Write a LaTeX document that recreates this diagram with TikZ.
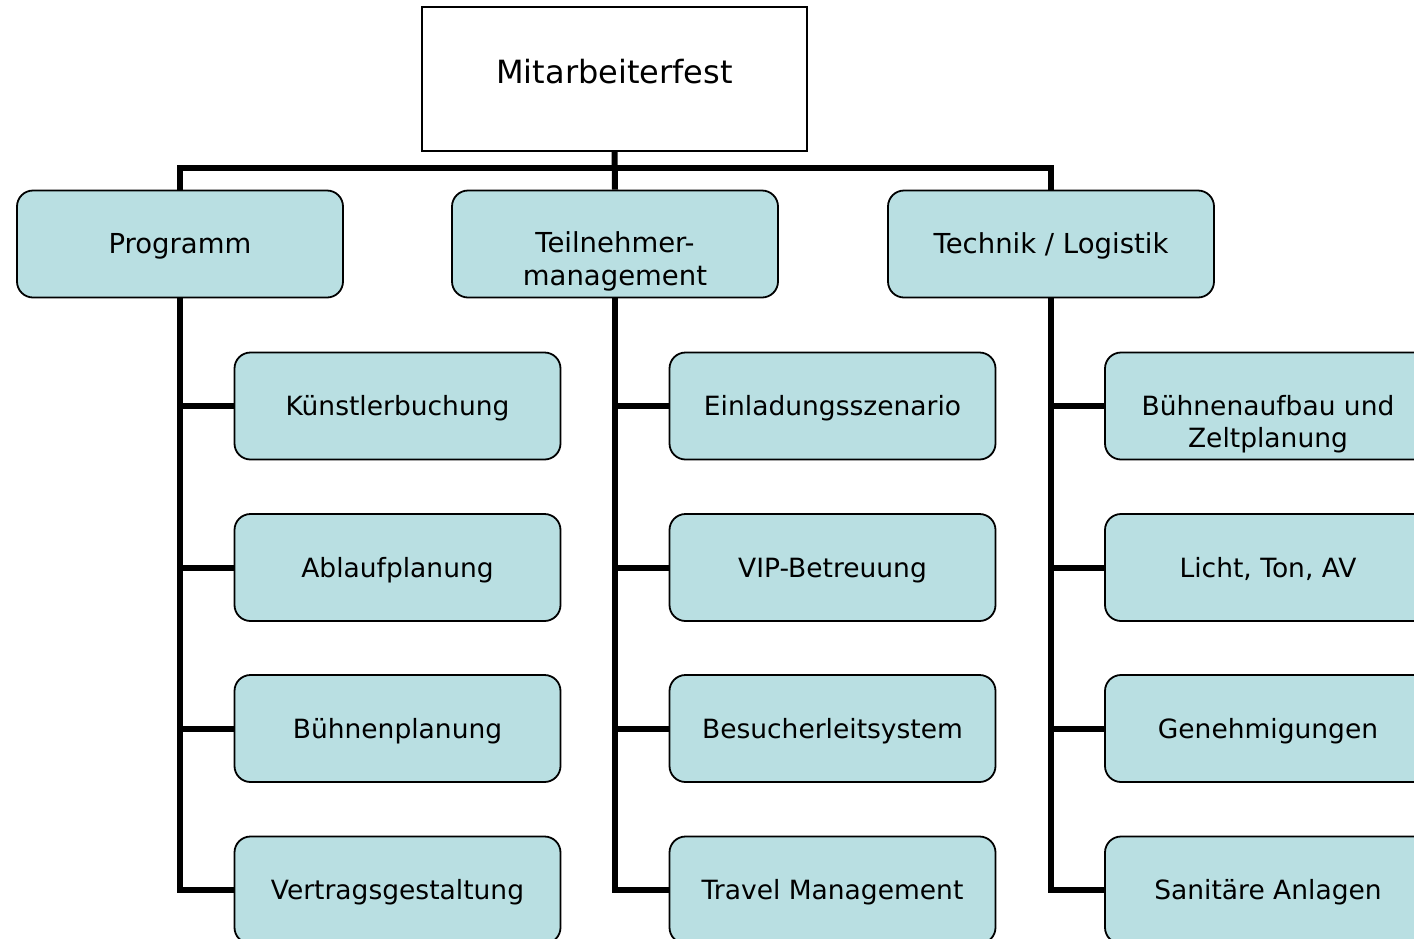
\documentclass[tikz,border=0pt]{standalone}
\usepackage{fontspec}
\setmainfont{DejaVu Sans}
\definecolor{boxblue}{RGB}{185,223,226}
\tikzset{
  rootbox/.style={draw, line width=1.5pt, fill=white, minimum width=385pt, minimum height=144pt, inner sep=0pt, font=\fontsize{32}{38}\selectfont, text height=20pt, text depth=12pt},
  taskbox/.style={draw, line width=1.8pt, fill=boxblue, rounded corners=16pt, minimum width=326pt, minimum height=107pt, inner sep=0pt, align=center, font=\fontsize{26.5}{32}\selectfont, text height=19pt, text depth=0pt},
  headbox/.style={taskbox, font=\fontsize{27.5}{33}\selectfont},
  twolines/.style={text height=83pt}
}
\begin{document}
\begin{tikzpicture}[x=1pt,y=-1pt,conn/.style={line width=6pt}]

\useasboundingbox (0,0) rectangle (1414,938);
\clip (0,0) rectangle (1414,938);

\node[rootbox] (fest) at (614.5,79) {Mitarbeiterfest};

\node[headbox] (prog) at (180,244) {Programm};
\node[headbox,twolines] (teil) at (615,244) {Teilnehmer-\\management};
\node[headbox] (tech) at (1051,244) {Technik / Logistik};

\coordinate (bus) at (615,168);

% Programm
\node[taskbox] (kb) at (397.5,406) {Künstlerbuchung};
\node[taskbox] (ap) at (397.5,567.5) {Ablaufplanung};
\node[taskbox] (bp) at (397.5,728.5) {Bühnenplanung};
\node[taskbox] (vg) at (397.5,890) {Vertragsgestaltung};

% Teilnehmermanagement
\node[taskbox] (es) at (832.5,406) {Einladungsszenario};
\node[taskbox] (vip) at (832.5,567.5) {VIP-Betreuung};
\node[taskbox] (bls) at (832.5,728.5) {Besucherleitsystem};
\node[taskbox] (tm) at (832.5,890) {Travel Management};

% Technik / Logistik
\node[taskbox,twolines] (ba) at (1268,406) {Bühnenaufbau und\\Zeltplanung};
\node[taskbox] (lt) at (1268,567.5) {Licht, Ton, AV};
\node[taskbox] (gen) at (1268,728.5) {Genehmigungen};
\node[taskbox] (san) at (1268,890) {Sanitäre Anlagen};

\draw[conn] (fest.south) -- (teil.north);
\draw[conn] (prog.north) |- (bus) -| (tech.north);

\draw[conn] (prog.south) |- (kb.west);
\draw[conn] (prog.south) |- (ap.west);
\draw[conn] (prog.south) |- (bp.west);
\draw[conn] (prog.south) |- (vg.west);

\draw[conn] (teil.south) |- (es.west);
\draw[conn] (teil.south) |- (vip.west);
\draw[conn] (teil.south) |- (bls.west);
\draw[conn] (teil.south) |- (tm.west);

\draw[conn] (tech.south) |- (ba.west);
\draw[conn] (tech.south) |- (lt.west);
\draw[conn] (tech.south) |- (gen.west);
\draw[conn] (tech.south) |- (san.west);

\end{tikzpicture}
\end{document}
